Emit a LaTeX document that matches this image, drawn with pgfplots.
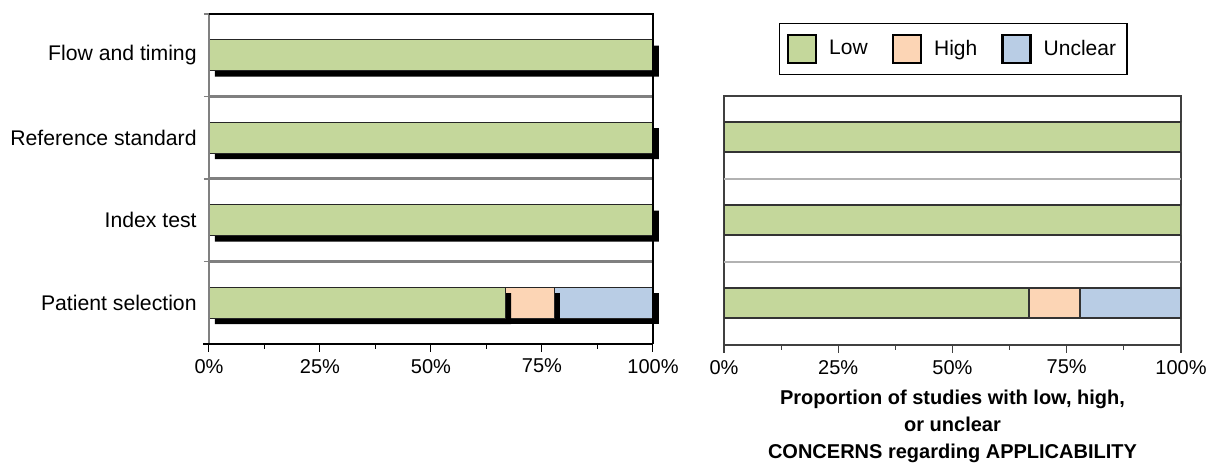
\documentclass[border=0pt]{standalone}
\usepackage{pgfplots}
\pgfplotsset{compat=1.18}
\usepackage{fontspec}
\setmainfont{Liberation Sans}
\definecolor{lowc}{RGB}{196,215,155}
\definecolor{highc}{RGB}{252,213,181}
\definecolor{uncc}{RGB}{185,205,229}
\tikzset{shadowed/.style={preaction={fill=black, draw=none, transform canvas={xshift=3pt,yshift=-3pt}}}}

\begin{document}
\begin{tikzpicture}[font=\fontsize{10}{12}\selectfont]
\useasboundingbox (0,0) rectangle (608.5pt,232.5pt);
% risk of bias (left)
\begin{axis}[
  at={(104.5pt,60.5pt)}, anchor=south west,
  scale only axis, width=222pt, height=165pt,
  xbar, bar shift=0pt, bar width=15.5pt,
  clip=false,
  xmin=0, xmax=100, ymin=-0.5, ymax=3.5,
  axis line style={draw=none},
  tick align=outside,
  xtick={0,25,50,75,100}, xticklabels={0\%,25\%,50\%,75\%,100\%},
  minor xtick={12.5,37.5,62.5,87.5},
  xtick pos=bottom, ytick pos=left,
  major tick length=4pt, minor tick length=2.5pt,
  x tick style={black, line width=0.5pt},
  ytick={0,1,2,3},
  yticklabels={Patient selection,Index test,Reference standard,Flow and timing},
  major y tick style={draw=none},
  minor ytick={-0.5,0.5,1.5,2.5,3.5},
  minor y tick style={gray, line width=0.8pt},
  extra y ticks={0.5,1.5,2.5}, extra y tick labels={},
  extra y tick style={grid=major, major grid style={gray, line width=1.5pt}},
  yticklabel style={inner sep=0pt, xshift=-2pt, font=\fontsize{10.6}{12}\selectfont},
]
\addplot[fill=uncc, draw=black!85, line width=0.6pt, shadowed] coordinates {(100,0)};
\addplot[fill=highc, draw=black!85, line width=0.6pt, shadowed] coordinates {(77.8,0)};
\addplot[fill=lowc, draw=black!85, line width=0.6pt, shadowed] coordinates {(66.7,0) (100,1) (100,2) (100,3)};
\draw[gray, line width=1pt] (rel axis cs:0,0) -- (rel axis cs:0,1);
\draw[black, line width=0.6pt] (rel axis cs:0,1) -- (rel axis cs:1,1) -- (rel axis cs:1,0);
\draw[black, line width=0.6pt] (rel axis cs:-0.013,0) -- (rel axis cs:1,0);
\end{axis}
% applicability (right)
\begin{axis}[
  at={(362pt,60pt)}, anchor=south west,
  scale only axis, width=228.5pt, height=124.5pt,
  xbar stacked, bar width=15pt,
  xmin=0, xmax=100, ymin=-0.5, ymax=2.5,
  axis line style={black!75, line width=1pt},
  tick align=outside,
  xtick={0,25,50,75,100}, xticklabels={0\%,25\%,50\%,75\%,100\%},
  minor xtick={12.5,37.5,62.5,87.5},
  xtick pos=bottom,
  major tick length=4pt, minor tick length=2.5pt,
  x tick style={black!75, line width=0.6pt},
  ytick=\empty,
  extra y ticks={0.5,1.5}, extra y tick labels={},
  extra y tick style={grid=major, major grid style={gray!60, line width=1pt}, major tick length=0pt},
  xlabel={Proportion of studies with low, high,\\or unclear\\CONCERNS regarding APPLICABILITY},
  xlabel style={align=center, yshift=-1pt, font=\fontsize{10}{13.5}\selectfont\bfseries},
  legend columns=-1,
  legend style={at={(0.502,1.189)}, anchor=center, draw=black, line width=0.6pt,
    font=\fontsize{10.5}{12}\selectfont, inner xsep=3.5pt, inner ysep=5pt,
    /tikz/every odd column/.append style={column sep=4pt},
    /tikz/every even column/.append style={column sep=10pt}},
  legend image code/.code={\draw[#1, draw=black, line width=1.2pt] (0pt,-7pt) rectangle (14pt,7pt);},
]
\addplot[fill=lowc, draw=black!80, line width=1pt] coordinates {(66.7,0) (100,1) (100,2)};
\addplot[fill=highc, draw=black!80, line width=1pt] coordinates {(11.1,0) (0,1) (0,2)};
\addplot[fill=uncc, draw=black!80, line width=1pt] coordinates {(22.2,0) (0,1) (0,2)};
\legend{Low,High,Unclear}
\end{axis}
\end{tikzpicture}
\end{document}
